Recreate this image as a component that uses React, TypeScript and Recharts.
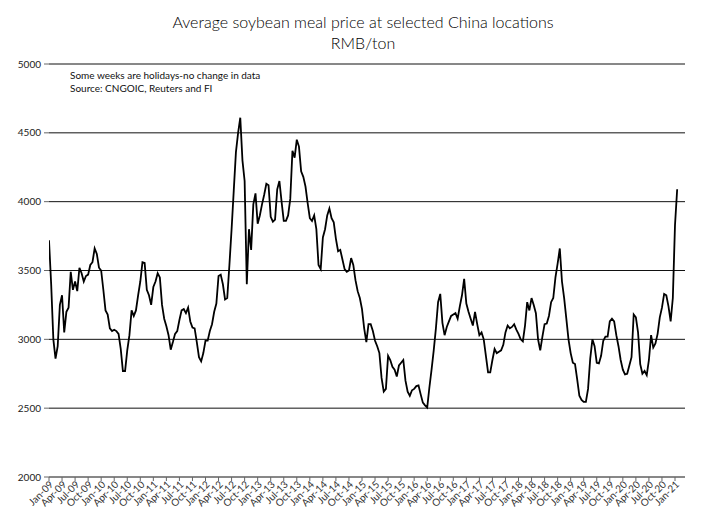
import React from 'react';
import { LineChart, Line, XAxis, YAxis, CartesianGrid } from 'recharts';

if (typeof document !== 'undefined') document.body.style.margin = '0';

// semi-monthly readings (1st and mid-month), RMB/ton
const p2009 = [3720, 3400, 3000, 2860, 2950, 3250, 3320, 3050, 3200, 3230, 3490, 3360, 3420, 3350, 3520, 3480, 3420, 3460, 3470, 3540, 3560, 3660, 3620, 3520];
const p2010 = [3500, 3360, 3210, 3180, 3080, 3060, 3070, 3060, 3040, 2930, 2770, 2770, 2920, 3030, 3210, 3170, 3210, 3320, 3420, 3560, 3555, 3360, 3320, 3250];
const p2011 = [3380, 3420, 3480, 3450, 3250, 3150, 3095, 3030, 2925, 2980, 3040, 3060, 3140, 3210, 3220, 3190, 3230, 3130, 3085, 3080, 2980, 2870, 2840, 2900];
const p2012 = [2990, 2990, 3060, 3110, 3200, 3260, 3460, 3470, 3400, 3290, 3300, 3540, 3800, 4080, 4360, 4500, 4610, 4300, 4150, 3400, 3800, 3650, 3980, 4060];
const p2013 = [3840, 3900, 3980, 4050, 4130, 4120, 3890, 3855, 3870, 4090, 4150, 4000, 3860, 3860, 3900, 4020, 4370, 4320, 4450, 4400, 4220, 4180, 4110, 3990];
const p2014 = [3880, 3860, 3900, 3800, 3540, 3510, 3740, 3800, 3900, 3950, 3880, 3850, 3730, 3640, 3650, 3580, 3510, 3490, 3500, 3590, 3540, 3430, 3350, 3300];
const p2015 = [3220, 3080, 2980, 3110, 3110, 3060, 2990, 2950, 2900, 2720, 2620, 2640, 2880, 2850, 2800, 2780, 2730, 2810, 2830, 2850, 2700, 2620, 2590, 2630];
const p2016 = [2640, 2660, 2665, 2600, 2540, 2520, 2505, 2650, 2780, 2920, 3080, 3270, 3330, 3120, 3030, 3090, 3130, 3170, 3180, 3190, 3150, 3240, 3320, 3440];
const p2017 = [3260, 3200, 3150, 3100, 3200, 3110, 3030, 3050, 3000, 2880, 2760, 2760, 2850, 2930, 2900, 2910, 2920, 2960, 3050, 3100, 3080, 3090, 3110, 3070];
const p2018 = [3040, 3000, 2985, 3100, 3270, 3210, 3300, 3250, 3190, 3000, 2920, 3020, 3110, 3115, 3170, 3270, 3300, 3450, 3550, 3660, 3420, 3300, 3150, 3000];
const p2019 = [2900, 2830, 2820, 2710, 2590, 2560, 2545, 2545, 2640, 2860, 3000, 2950, 2830, 2825, 2880, 2990, 3020, 3020, 3130, 3150, 3130, 3030, 2950, 2850];
const p2020 = [2780, 2745, 2750, 2810, 2870, 3180, 3160, 3050, 2820, 2750, 2770, 2740, 2850, 3030, 2940, 2970, 3040, 3160, 3230, 3330, 3320, 3240, 3130, 3300];
const p2021 = [3830, 4090];

const yearSuffix = ['09', '10', '11', '12', '13', '14', '15', '16', '17', '18', '19', '20', '21'];
const quarterMonths = ['Jan', 'Apr', 'Jul', 'Oct'];
const yTicks = [2000, 2500, 3000, 3500, 4000, 4500, 5000];

const yearly = [p2009, p2010, p2011, p2012, p2013, p2014, p2015, p2016, p2017, p2018, p2019, p2020, p2021];
const data = yearly.flatMap((vals, y) => vals.map((v, i) => ({ m: y * 12 + i / 2, price: v })));
const xTicks = yearSuffix.flatMap((_, y) => (y < 12 ? [0, 3, 6, 9].map((q) => y * 12 + q) : [y * 12]));

const tickLabel = (m: number) => `${quarterMonths[Math.round(m / 3) % 4]}-${yearSuffix[Math.floor(m / 12)]}`;

const font = 'Lato, "Open Sans", sans-serif';

const XTick = (props: any) => {
  const { x, y, payload } = props;
  return (
    <g transform={`translate(${x},${y})`}>
      <text x={2} y={5} textAnchor="end" transform="rotate(-45)" fontSize={10} fontFamily={font} fill="#333">
        {tickLabel(payload.value)}
      </text>
    </g>
  );
};

export default function App() {
  return (
    <div style={{ position: 'relative', width: 701, height: 523, background: '#fff' }}>
      <div style={{ position: 'absolute', left: 0, top: 11, width: 726, textAlign: 'center', fontFamily: font, fontSize: 16, fontWeight: 300, color: '#000', lineHeight: '21px' }}>
        Average soybean meal price at selected China locations
        <br />
        RMB/ton
      </div>
      <div style={{ position: 'absolute', left: 70, top: 69, fontFamily: font, fontSize: 10, color: '#111', lineHeight: '13px' }}>
        Some weeks are holidays-no change in data
        <br />
        Source: CNGOIC, Reuters and FI
      </div>
      <LineChart width={701} height={523} data={data} margin={{ top: 64, right: 16, left: 9, bottom: 0 }}>
        <CartesianGrid vertical={false} stroke="#111" strokeWidth={1} />
        <XAxis
          type="number"
          dataKey="m"
          domain={[0, 146.3]}
          ticks={xTicks}
          interval={0}
          allowDataOverflow
          height={46}
          tick={<XTick />}
          tickSize={4}
          tickMargin={2}
          axisLine={{ stroke: '#888' }}
          tickLine={{ stroke: '#666' }}
        />
        <YAxis
          type="number"
          domain={[2000, 5000]}
          ticks={yTicks}
          interval={0}
          width={40}
          axisLine={false}
          tickSize={5}
          tickMargin={3}
          tickLine={{ stroke: '#666' }}
          tick={{ fontSize: 10, fontFamily: font, fill: '#222' }}
        />
        <Line type="linear" dataKey="price" stroke="#000" strokeWidth={1.8} dot={false} isAnimationActive={false} />
      </LineChart>
    </div>
  );
}
